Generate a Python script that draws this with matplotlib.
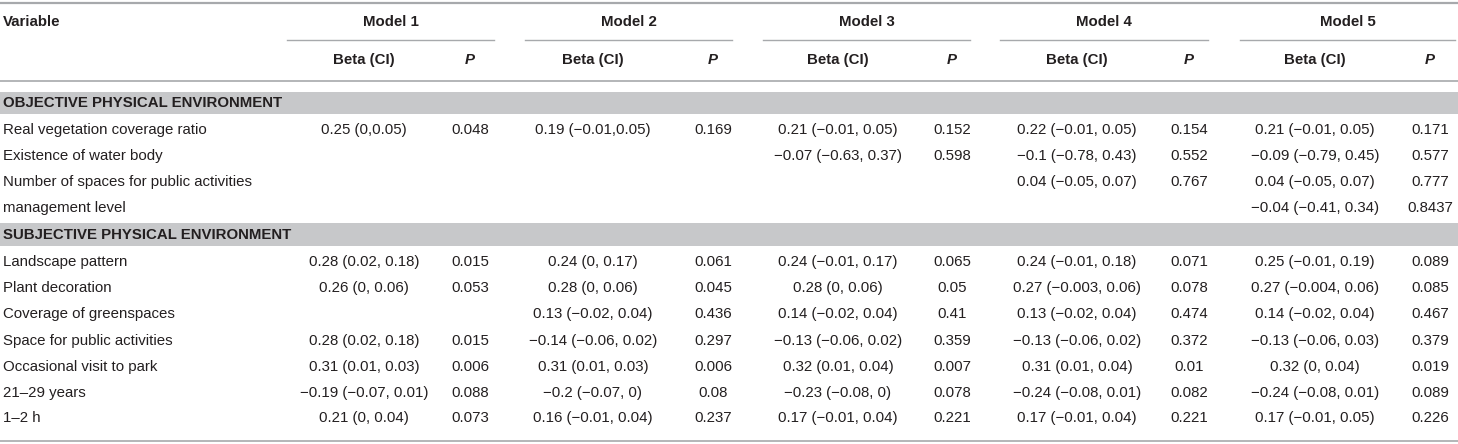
import matplotlib
matplotlib.use("Agg")
import matplotlib.pyplot as plt

# ---------------- data ----------------
models = ["Model 1", "Model 2", "Model 3", "Model 4", "Model 5"]
sub_headers = ["Beta (CI)", "P"]

section_obj = "OBJECTIVE PHYSICAL ENVIRONMENT"
section_subj = "SUBJECTIVE PHYSICAL ENVIRONMENT"

vars_obj = ["Real vegetation coverage ratio", "Existence of water body",
            "Number of spaces for public activities", "management level"]
vars_subj = ["Landscape pattern", "Plant decoration", "Coverage of greenspaces",
             "Space for public activities", "Occasional visit to park",
             "21–29 years", "1–2 h"]

m1_beta_obj = ["0.25 (0,0.05)", None, None, None]
m1_p_obj = ["0.048", None, None, None]
m1_beta_subj = ["0.28 (0.02, 0.18)", "0.26 (0, 0.06)", None, "0.28 (0.02, 0.18)",
                "0.31 (0.01, 0.03)", "−0.19 (−0.07, 0.01)", "0.21 (0, 0.04)"]
m1_p_subj = ["0.015", "0.053", None, "0.015", "0.006", "0.088", "0.073"]

m2_beta_obj = ["0.19 (−0.01,0.05)", None, None, None]
m2_p_obj = ["0.169", None, None, None]
m2_beta_subj = ["0.24 (0, 0.17)", "0.28 (0, 0.06)", "0.13 (−0.02, 0.04)", "−0.14 (−0.06, 0.02)",
                "0.31 (0.01, 0.03)", "−0.2 (−0.07, 0)", "0.16 (−0.01, 0.04)"]
m2_p_subj = ["0.061", "0.045", "0.436", "0.297", "0.006", "0.08", "0.237"]

m3_beta_obj = ["0.21 (−0.01, 0.05)", "−0.07 (−0.63, 0.37)", None, None]
m3_p_obj = ["0.152", "0.598", None, None]
m3_beta_subj = ["0.24 (−0.01, 0.17)", "0.28 (0, 0.06)", "0.14 (−0.02, 0.04)", "−0.13 (−0.06, 0.02)",
                "0.32 (0.01, 0.04)", "−0.23 (−0.08, 0)", "0.17 (−0.01, 0.04)"]
m3_p_subj = ["0.065", "0.05", "0.41", "0.359", "0.007", "0.078", "0.221"]

m4_beta_obj = ["0.22 (−0.01, 0.05)", "−0.1 (−0.78, 0.43)", "0.04 (−0.05, 0.07)", None]
m4_p_obj = ["0.154", "0.552", "0.767", None]
m4_beta_subj = ["0.24 (−0.01, 0.18)", "0.27 (−0.003, 0.06)", "0.13 (−0.02, 0.04)", "−0.13 (−0.06, 0.02)",
                "0.31 (0.01, 0.04)", "−0.24 (−0.08, 0.01)", "0.17 (−0.01, 0.04)"]
m4_p_subj = ["0.071", "0.078", "0.474", "0.372", "0.01", "0.082", "0.221"]

m5_beta_obj = ["0.21 (−0.01, 0.05)", "−0.09 (−0.79, 0.45)", "0.04 (−0.05, 0.07)", "−0.04 (−0.41, 0.34)"]
m5_p_obj = ["0.171", "0.577", "0.777", "0.8437"]
m5_beta_subj = ["0.25 (−0.01, 0.19)", "0.27 (−0.004, 0.06)", "0.14 (−0.02, 0.04)", "−0.13 (−0.06, 0.03)",
                "0.32 (0, 0.04)", "−0.24 (−0.08, 0.01)", "0.17 (−0.01, 0.05)"]
m5_p_subj = ["0.089", "0.085", "0.467", "0.379", "0.019", "0.089", "0.226"]

beta_obj = [m1_beta_obj, m2_beta_obj, m3_beta_obj, m4_beta_obj, m5_beta_obj]
p_obj = [m1_p_obj, m2_p_obj, m3_p_obj, m4_p_obj, m5_p_obj]
beta_subj = [m1_beta_subj, m2_beta_subj, m3_beta_subj, m4_beta_subj, m5_beta_subj]
p_subj = [m1_p_subj, m2_p_subj, m3_p_subj, m4_p_subj, m5_p_subj]

# ---------------- layout ----------------
W, H = 1458, 444
FONT = "Liberation Sans"
FS = 10.8
TXT = "#231f20"
RULE = "#a7a9ac"
BAND = "#c7c8ca"

fig = plt.figure(figsize=(W / 100, H / 100), dpi=100)
ax = fig.add_axes([0, 0, 1, 1])
ax.set_xlim(0, W)
ax.set_ylim(H, 0)
ax.axis("off")

under_start = [287, 525, 763, 1000, 1240]
under_end = [494, 732, 970, 1208, 1455]
beta_x = [364, 593, 838, 1077, 1315]
p_x = [470, 713, 952, 1189, 1430]

y_head1, y_under, y_head2, y_rule = 22, 40, 60, 81
band1 = (92, 114)
rows_obj_y = [130, 156, 182, 208]
band2 = (223, 246)
rows_subj_y = [262, 288, 314, 341, 367, 393, 418]
y_bottom = 441

def txt(x, y, s, ha="center", weight="normal", style="normal"):
    ax.text(x, y, s, ha=ha, va="center", fontsize=FS, family=FONT,
            fontweight=weight, fontstyle=style, color=TXT)

# rules
ax.plot([0, W], [3, 3], color=RULE, lw=1.6, solid_capstyle="butt")
ax.plot([0, W], [y_rule, y_rule], color=RULE, lw=1.2, solid_capstyle="butt")
ax.plot([0, W], [y_bottom, y_bottom], color=RULE, lw=1.2, solid_capstyle="butt")

# header
txt(3, y_head1, "Variable", ha="left", weight="bold")
for k, m in enumerate(models):
    x0, x1 = under_start[k], under_end[k]
    txt((x0 + x1) / 2, y_head1, m, weight="bold")
    ax.plot([x0, x1], [y_under, y_under], color=RULE, lw=1.0)
    txt(beta_x[k], y_head2, sub_headers[0], weight="bold")
    txt(p_x[k], y_head2, sub_headers[1], weight="bold", style="italic")

# section bands
for (b0, b1), label in [(band1, section_obj), (band2, section_subj)]:
    ax.fill_between([0, W], b0, b1, color=BAND, lw=0)
    txt(3, (b0 + b1) / 2, label, ha="left", weight="bold")

# body rows
def draw_rows(names, ys, betas, ps):
    for i, (name, y) in enumerate(zip(names, ys)):
        txt(3, y, name, ha="left")
        for k in range(len(models)):
            b = betas[k][i]
            p = ps[k][i]
            if b is not None:
                txt(beta_x[k], y, b)
            if p is not None:
                txt(p_x[k], y, p)

draw_rows(vars_obj, rows_obj_y, beta_obj, p_obj)
draw_rows(vars_subj, rows_subj_y, beta_subj, p_subj)

fig.savefig("out.png", dpi=100)
